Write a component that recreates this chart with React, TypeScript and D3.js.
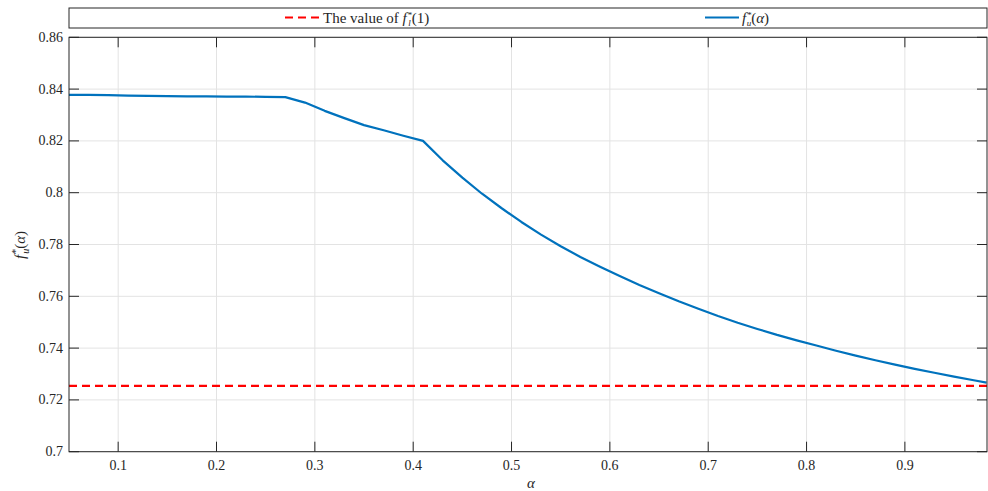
import React from "react";
import * as d3 from "d3";

const alphaValues = [0.05, 0.07, 0.09, 0.11, 0.13, 0.15, 0.17, 0.19, 0.21, 0.23, 0.25, 0.27, 0.29, 0.31, 0.33, 0.35, 0.37, 0.39, 0.41, 0.43, 0.45, 0.47, 0.49, 0.51, 0.53, 0.55, 0.57, 0.59, 0.61, 0.63, 0.65, 0.67, 0.69, 0.71, 0.73, 0.75, 0.77, 0.79, 0.81, 0.83, 0.85, 0.87, 0.89, 0.91, 0.93, 0.95, 0.97, 0.983];
const fuValues = [0.8378, 0.8378, 0.8377, 0.8375, 0.8374, 0.8373, 0.8372, 0.8372, 0.8371, 0.8371, 0.837, 0.8369, 0.8348, 0.8316, 0.8288, 0.8261, 0.8241, 0.822, 0.82, 0.8125, 0.8058, 0.7996, 0.794, 0.7887, 0.7838, 0.7793, 0.7752, 0.7714, 0.7678, 0.7644, 0.7612, 0.7581, 0.7552, 0.7524, 0.7498, 0.7474, 0.7451, 0.743, 0.741, 0.739, 0.7371, 0.7353, 0.7336, 0.732, 0.7305, 0.729, 0.7276, 0.7267];
const flValue = 0.7254;
const xTicks = [0.1, 0.2, 0.3, 0.4, 0.5, 0.6, 0.7, 0.8, 0.9];
const yTicks = [0.7, 0.72, 0.74, 0.76, 0.78, 0.8, 0.82, 0.84, 0.86];
const xDomain = [0.05, 0.9835];
const yDomain = [0.7, 0.86];

const BLUE = "#0072BD";
const RED = "#FF0000";
const AX = "#262626";
const FONT = "'Liberation Serif', 'DejaVu Serif', serif";

export default function App() {
  const left = 69, right = 987, top = 37.3, bottom = 451.7;
  const x = d3.scaleLinear().domain(xDomain).range([left, right]);
  const y = d3.scaleLinear().domain(yDomain).range([bottom, top]);
  const data = alphaValues.map((a, i) => [a, fuValues[i]] as [number, number]);
  const line = d3.line<[number, number]>().x(d => x(d[0])).y(d => y(d[1]));
  const tickLen = 10;

  return (
    <svg width={988} height={491} style={{ position: "absolute", left: 0, top: 0, background: "#fff", fontFamily: FONT }}>
      <rect x={0} y={0} width={988} height={491} fill="#fff" />
      <defs>
        <clipPath id="plotclip">
          <rect x={left} y={top} width={right - left} height={bottom - top} />
        </clipPath>
      </defs>
      {xTicks.map(t => (
        <line key={"gx" + t} x1={x(t)} x2={x(t)} y1={top} y2={bottom} stroke="#e3e3e3" strokeWidth={1} />
      ))}
      {yTicks.map(t => (
        <line key={"gy" + t} x1={left} x2={right} y1={y(t)} y2={y(t)} stroke="#e3e3e3" strokeWidth={1} />
      ))}
      <g clipPath="url(#plotclip)">
        <line x1={left} x2={right} y1={y(flValue)} y2={y(flValue)} stroke={RED} strokeWidth={2.2} strokeDasharray="8,5" />
        <path d={line(data) || ""} fill="none" stroke={BLUE} strokeWidth={2.2} strokeLinejoin="round" />
      </g>
      <rect x={left} y={top} width={right - left} height={bottom - top} fill="none" stroke={AX} strokeWidth={1} />
      {xTicks.map(t => (
        <g key={"xt" + t}>
          <line x1={x(t)} x2={x(t)} y1={bottom} y2={bottom - tickLen} stroke={AX} />
          <line x1={x(t)} x2={x(t)} y1={top} y2={top + tickLen} stroke={AX} />
          <text x={x(t)} y={470} fontSize={14} textAnchor="middle" fill={AX} style={{ fontFamily: FONT }}>{String(t)}</text>
        </g>
      ))}
      {yTicks.map(t => (
        <g key={"yt" + t}>
          <line x1={left} x2={left + tickLen} y1={y(t)} y2={y(t)} stroke={AX} />
          <line x1={right} x2={right - tickLen} y1={y(t)} y2={y(t)} stroke={AX} />
          <text x={63} y={y(t) + 4.5} fontSize={14} textAnchor="end" fill={AX} style={{ fontFamily: FONT }}>{String(t)}</text>
        </g>
      ))}
      <text x={531} y={488} fontSize={15} fontStyle="italic" textAnchor="middle" fill={AX} style={{ fontFamily: FONT }}>α</text>
      <text transform="translate(25,245) rotate(-90)" fontSize={15} textAnchor="middle" fill={AX} style={{ fontFamily: FONT }}>
        <tspan fontStyle="italic">f</tspan>
        <tspan fontSize={10} dx={1} dy={-6}>*</tspan>
        <tspan fontSize={10} fontStyle="italic" dx={-5} dy={10}>u</tspan>
        <tspan dy={-4}>(</tspan>
        <tspan fontStyle="italic">α</tspan>
        <tspan>)</tspan>
      </text>
      <rect x={left} y={8} width={right - left} height={20} fill="#fff" stroke={AX} strokeWidth={1} />
      <line x1={285} x2={320} y1={17.5} y2={17.5} stroke={RED} strokeWidth={2.2} strokeDasharray="8,5" />
      <text x={323} y={22.5} fontSize={15} fill={AX} style={{ fontFamily: FONT }}>
        <tspan>The value of </tspan>
        <tspan fontStyle="italic">f</tspan>
        <tspan fontSize={9} dx={1} dy={-5}>*</tspan>
        <tspan fontSize={9} fontStyle="italic" dx={-4} dy={8}>l</tspan>
        <tspan dx={1} dy={-3}>(1)</tspan>
      </text>
      <line x1={705} x2={739} y1={17.5} y2={17.5} stroke={BLUE} strokeWidth={2.2} />
      <text x={742} y={22.5} fontSize={15} fill={AX} style={{ fontFamily: FONT }}>
        <tspan fontStyle="italic">f</tspan>
        <tspan fontSize={9} dx={1} dy={-5}>*</tspan>
        <tspan fontSize={9} fontStyle="italic" dx={-5} dy={8}>u</tspan>
        <tspan dy={-3}>(</tspan>
        <tspan fontStyle="italic">α</tspan>
        <tspan>)</tspan>
      </text>
    </svg>
  );
}
